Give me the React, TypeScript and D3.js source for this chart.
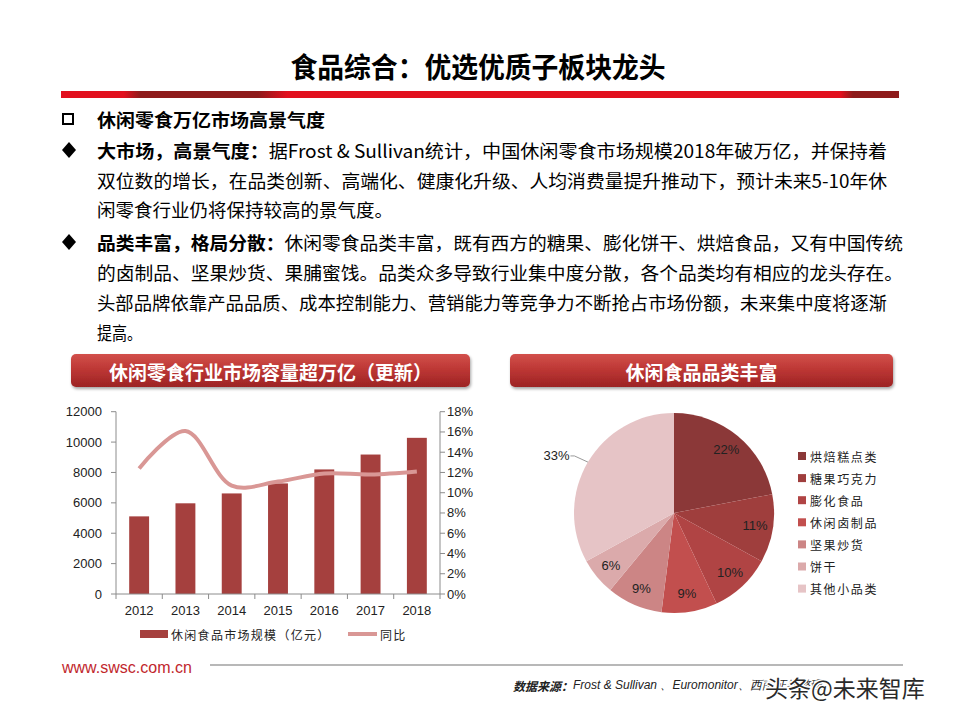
import * as d3 from "d3";

// ---- data ----
const years = ["2012", "2013", "2014", "2015", "2016", "2017", "2018"];
const marketSize = [5110, 5970, 6620, 7280, 8200, 9180, 10280]; // 亿元
const yoy = [0.124, 0.161, 0.107, 0.111, 0.119, 0.118, 0.121];

const pieCats = ["烘焙糕点类", "糖果巧克力", "膨化食品", "休闲卤制品", "坚果炒货", "饼干", "其他小品类"];
const pieShares = [22, 11, 10, 9, 9, 6, 33];
const pieColors = ["#8b3838", "#9f3e3d", "#b04444", "#c24f4e", "#cc8585", "#dbaaab", "#e6c4c6"];

const title = "食品综合：优选优质子板块龙头";
const heading = "休闲零食万亿市场高景气度";
const bodyLines: { b?: string; t: string }[] = [
  { b: "大市场，高景气度：", t: "据Frost & Sullivan统计，中国休闲零食市场规模2018年破万亿，并保持着" },
  { t: "双位数的增长，在品类创新、高端化、健康化升级、人均消费量提升推动下，预计未来5-10年休" },
  { t: "闲零食行业仍将保持较高的景气度。" },
  { b: "品类丰富，格局分散：", t: "休闲零食品类丰富，既有西方的糖果、膨化饼干、烘焙食品，又有中国传统" },
  { t: "的卤制品、坚果炒货、果脯蜜饯。品类众多导致行业集中度分散，各个品类均有相应的龙头存在。" },
  { t: "头部品牌依靠产品品质、成本控制能力、营销能力等竞争力不断抢占市场份额，未来集中度将逐渐" },
  { t: "提高。" },
];
const leftBoxTitle = "休闲零食行业市场容量超万亿（更新）";
const rightBoxTitle = "休闲食品品类丰富";
const legendBar = "休闲食品市场规模（亿元）";
const legendLine = "同比";
const source = "Frost & Sullivan 、Euromonitor、西南证券整理";

// layout for the text block
const lineY = [150, 180, 209, 242, 272, 302, 332];
const lineW = [790, 790, 296, 806, 806, 790, 45];

const CJK = "'Noto Sans CJK SC', 'Noto Sans', sans-serif";
const ARIAL = "'Liberation Sans', Arial, sans-serif";

export default function App() {
  // bar + line chart
  const x = d3.scaleBand<string>().domain(years).range([116, 440]).paddingInner(0.57).paddingOuter(0.285);
  const yL = d3.scaleLinear().domain([0, 12000]).range([594, 411.7]);
  const yR = d3.scaleLinear().domain([0, 0.18]).range([594, 411.7]);
  const cx = (d: string) => (x(d) ?? 0) + x.bandwidth() / 2;
  const line = d3
    .line<number>()
    .x((_, i) => cx(years[i]))
    .y((d) => yR(d))
    .curve(d3.curveCatmullRom.alpha(0.5));
  const boundaries = d3.range(years.length + 1).map((i) => x.range()[0] + i * x.step());

  // pie
  const pcx = 674, pcy = 513, R = 100;
  const arcs = d3.pie<number>().sort(null).value((d) => d)(pieShares);
  const arc = d3.arc<d3.PieArcDatum<number>>().innerRadius(0).outerRadius(R);
  const labelArc = d3.arc<d3.PieArcDatum<number>>().innerRadius(82).outerRadius(82);

  const box = (x0: number, x1: number, label: string) => (
    <g>
      <rect x={x0} y={354} width={x1 - x0} height={33} rx={5} fill="url(#hdr)" filter="url(#shadow)" />
      <text x={(x0 + x1) / 2} y={371} textAnchor="middle" dominantBaseline="central" fill="#fff"
        fontFamily={CJK} fontWeight="bold" fontSize={19}>{label}</text>
    </g>
  );

  return (
    <svg width={960} height={720} style={{ position: "absolute", left: 0, top: 0, background: "#fff" }}>
      <defs>
        <linearGradient id="hdr" x1="0" y1="0" x2="0" y2="1">
          <stop offset="0" stopColor="#d2504b" />
          <stop offset="0.5" stopColor="#bb3533" />
          <stop offset="1" stopColor="#9c2424" />
        </linearGradient>
        <linearGradient id="bar" x1="0" y1="0" x2="1" y2="0">
          <stop offset="0" stopColor="#e2101e" />
          <stop offset="0.075" stopColor="#e2101e" />
          <stop offset="0.095" stopColor="#8e1b1b" />
          <stop offset="0.235" stopColor="#8e1b1b" />
          <stop offset="0.27" stopColor="#e2101e" />
          <stop offset="0.93" stopColor="#e2101e" />
          <stop offset="0.945" stopColor="#8e1b1b" />
          <stop offset="1" stopColor="#8e1b1b" />
        </linearGradient>
        <filter id="shadow" x="-5%" y="-20%" width="110%" height="160%">
          <feDropShadow dx="1" dy="2" stdDeviation="1.5" floodColor="#000" floodOpacity="0.35" />
        </filter>
      </defs>

      {/* title */}
      <text x={478} y={66} textAnchor="middle" dominantBaseline="central" fontFamily={CJK}
        fontWeight="bold" fontSize={28} textLength={375} lengthAdjust="spacingAndGlyphs">{title}</text>
      <rect x={61} y={91} width={838} height={7} fill="url(#bar)" />

      {/* bullet text */}
      <rect x={63} y={114} width={10} height={10} fill="none" stroke="#000" strokeWidth={2} />
      <text x={97} y={119} dominantBaseline="central" fontFamily={CJK} fontWeight="bold" fontSize={18}
        textLength={228} lengthAdjust="spacingAndGlyphs">{heading}</text>
      {bodyLines.map((l, i) => (
        <g key={i}>
          {l.b && (
            <polygon points={`69,${lineY[i] - 8} 76,${lineY[i]} 69,${lineY[i] + 8} 62,${lineY[i]}`} fill="#000" />
          )}
          <text x={97} y={lineY[i]} dominantBaseline="central" fontFamily={CJK} fontSize={18} fill="#000"
            textLength={lineW[i]} lengthAdjust="spacingAndGlyphs">
            {l.b && <tspan fontWeight="bold">{l.b}</tspan>}
            <tspan>{l.t}</tspan>
          </text>
        </g>
      ))}

      {box(71, 470, leftBoxTitle)}
      {box(510, 893, rightBoxTitle)}

      {/* bars */}
      {years.map((yr, i) => (
        <rect key={yr} x={x(yr)} y={yL(marketSize[i])} width={x.bandwidth()} height={yL(0) - yL(marketSize[i])} fill="#a5403e" />
      ))}
      <path d={line(yoy) ?? ""} fill="none" stroke="#d99795" strokeWidth={4} />

      {/* axes */}
      <g stroke="#8c8c8c" strokeWidth={1}>
        <line x1={116} x2={116} y1={yL(0)} y2={yL(12000)} />
        <line x1={440} x2={440} y1={yR(0)} y2={yR(0.18)} />
        <line x1={116} x2={440} y1={yL(0)} y2={yL(0)} />
        {yL.ticks(6).map((t) => <line key={"l" + t} x1={111} x2={116} y1={yL(t)} y2={yL(t)} />)}
        {yR.ticks(9).map((t) => <line key={"r" + t} x1={440} x2={445} y1={yR(t)} y2={yR(t)} />)}
        {boundaries.map((b, i) => <line key={"b" + i} x1={b} x2={b} y1={yL(0)} y2={yL(0) + 5} />)}
      </g>
      <g fontFamily={ARIAL} fontSize={13} fill="#222">
        {yL.ticks(6).map((t) => (
          <text key={t} x={102} y={yL(t)} textAnchor="end" dominantBaseline="central">{t}</text>
        ))}
        {yR.ticks(9).map((t) => (
          <text key={t} x={447} y={yR(t)} dominantBaseline="central">{d3.format(".0%")(t)}</text>
        ))}
        {years.map((yr) => (
          <text key={yr} x={cx(yr)} y={610} textAnchor="middle" dominantBaseline="central">{yr}</text>
        ))}
      </g>

      {/* legend */}
      <rect x={140} y={630} width={28} height={8} fill="#a5403e" />
      <text x={171} y={634} dominantBaseline="central" fontFamily={CJK} fontSize={12} letterSpacing={1.3} fill="#222">{legendBar}</text>
      <line x1={348} x2={377} y1={634} y2={634} stroke="#d99795" strokeWidth={4} />
      <text x={380} y={634} dominantBaseline="central" fontFamily={CJK} fontSize={12} letterSpacing={1.3} fill="#222">{legendLine}</text>

      {/* pie */}
      <g transform={`translate(${pcx},${pcy})`}>
        {arcs.map((a, i) => (
          <path key={i} d={arc(a) ?? ""} fill={pieColors[i]} />
        ))}
        {arcs.map((a, i) => {
          if (i === arcs.length - 1) {
            const mid = (a.startAngle + a.endAngle) / 2;
            const px = Math.sin(mid) * R, py = -Math.cos(mid) * R;
            const lx = Math.sin(mid) * 118, ly = -Math.cos(mid) * 118;
            return (
              <g key={i}>
                <polyline points={`${px},${py} ${lx + 2},${ly + 3} ${lx - 2},${ly + 3}`} fill="none" stroke="#999" />
                <text x={lx - 3} y={ly + 3} textAnchor="end" dominantBaseline="central" fontFamily={ARIAL} fontSize={13} fill="#222">{pieShares[i]}%</text>
              </g>
            );
          }
          const [lx, ly] = labelArc.centroid(a);
          return (
            <text key={i} x={lx} y={ly} textAnchor="middle" dominantBaseline="central" fontFamily={ARIAL} fontSize={13} fill="#222">{pieShares[i]}%</text>
          );
        })}
      </g>
      {pieCats.map((c, i) => (
        <g key={c}>
          <rect x={798} y={452 + i * 22.1} width={8} height={8} fill={pieColors[i]} />
          <text x={810} y={456 + i * 22.1} dominantBaseline="central" fontFamily={CJK} fontSize={12} letterSpacing={1.6} fill="#222">{c}</text>
        </g>
      ))}

      {/* footer */}
      <text x={62} y={667} dominantBaseline="central" fontFamily={ARIAL} fontSize={16} fill="#c1272d">www.swsc.com.cn</text>
      <line x1={210} x2={903} y1={665} y2={665} stroke="#b8b8b8" strokeWidth={2} />
      <text x={513} y={685} dominantBaseline="central" fontSize={12} fontStyle="italic" fill="#222">
        <tspan fontFamily={CJK} fontWeight="bold">数据来源：</tspan>
        <tspan fontFamily={ARIAL}>{source}</tspan>
      </text>
      <text x={765} y={687} dominantBaseline="central" fontFamily={CJK} fontSize={23} fill="#2a2a2a"
        stroke="#fff" strokeWidth={3} paintOrder="stroke">头条@未来智库</text>
    </svg>
  );
}
